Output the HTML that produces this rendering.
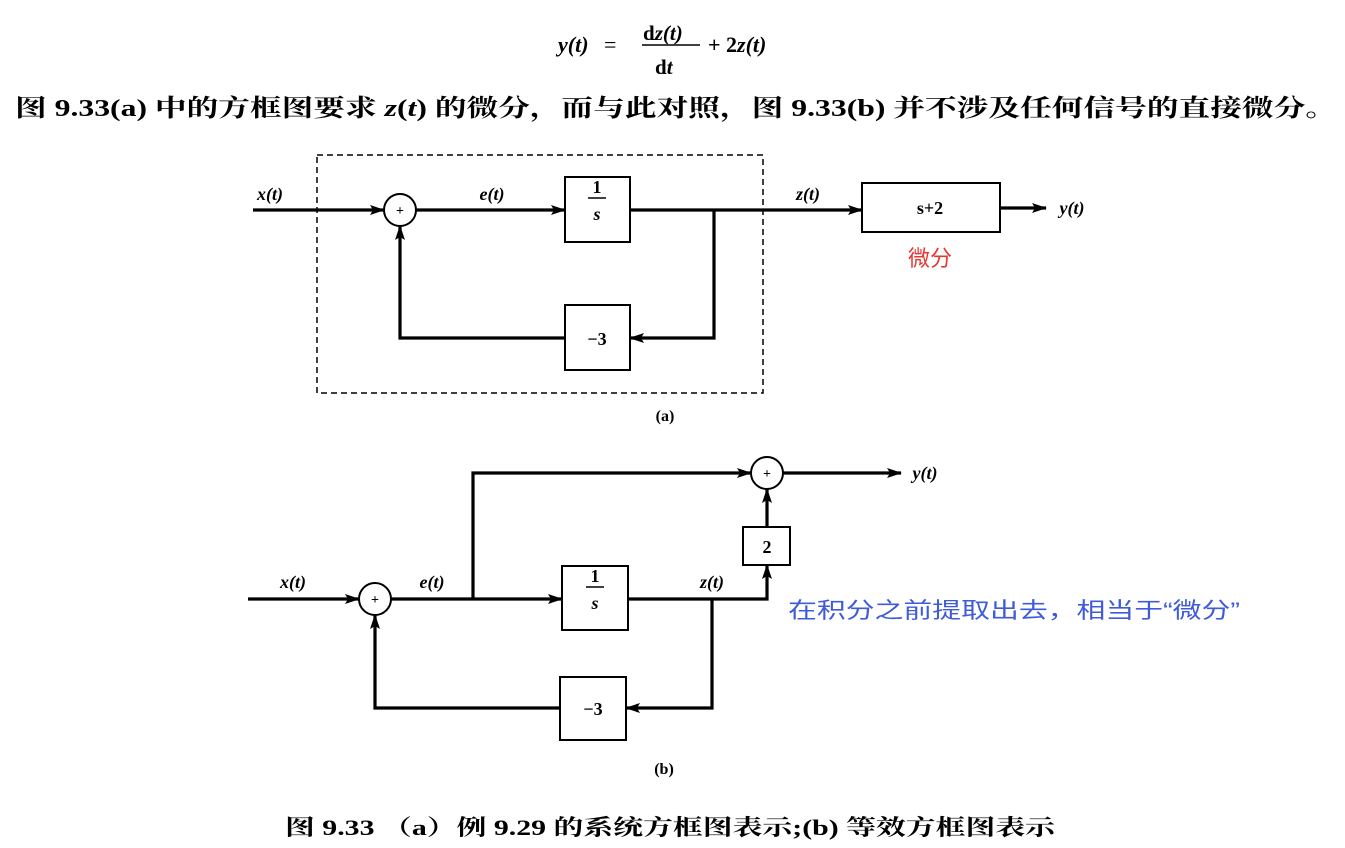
<!DOCTYPE html>
<html><head><meta charset="utf-8"><style>
html,body{margin:0;padding:0;background:#fff;}
svg{display:block;}
.m{font-family:"Liberation Serif",serif;font-style:italic;font-weight:bold;}
.c{font-family:"Liberation Serif","Noto Serif CJK SC","Noto Sans CJK SC",serif;font-weight:bold;}
</style></head><body>
<svg width="1345" height="848" viewBox="0 0 1345 848" xmlns="http://www.w3.org/2000/svg">
<defs>
<marker id="a" markerWidth="15" markerHeight="10" refX="14" refY="5" orient="auto" markerUnits="userSpaceOnUse"><path d="M0,0 L15,5 L0,10 L3,5 z" fill="#000"/></marker>
</defs>
<!-- formula -->
<text x="558" y="52" class="m" font-size="22">y(t)</text>
<text x="604" y="52" font-family="Liberation Serif" font-size="22">=</text>
<text x="643" y="40" class="m" font-size="21"><tspan font-style="normal">d</tspan>z(t)</text>
<line x1="642" y1="45" x2="700" y2="45" stroke="#000" stroke-width="1.5"/>
<text x="655" y="74" class="m" font-size="21"><tspan font-style="normal">d</tspan>t</text>
<text x="708" y="52" class="m" font-size="22"><tspan font-style="normal">+ 2</tspan>z(t)</text>
<text x="15" y="116" class="c" font-size="24" textLength="1322" lengthAdjust="spacingAndGlyphs">图 9.33(a) 中的方框图要求 <tspan font-style="italic">z</tspan>(<tspan font-style="italic">t</tspan>) 的微分，而与此对照，图 9.33(b) 并不涉及任何信号的直接微分。</text>

<g stroke="#000" stroke-width="3.2" fill="none">
<!-- (a) -->
<rect x="317" y="155" width="446" height="238" stroke-width="1.5" stroke-dasharray="6,4"/>
<line x1="253" y1="210" x2="384" y2="210" marker-end="url(#a)"/>
<circle cx="400" cy="210" r="16" stroke-width="2"/>
<line x1="416" y1="210" x2="565" y2="210" marker-end="url(#a)"/>
<rect x="565" y="177" width="65" height="65" stroke-width="2"/>
<line x1="630" y1="210" x2="862" y2="210" marker-end="url(#a)"/>
<polyline points="714,210 714,338 630,338" marker-end="url(#a)"/>
<rect x="565" y="305" width="65" height="65" stroke-width="2"/>
<polyline points="565,338 400,338 400,226" marker-end="url(#a)"/>
<rect x="862" y="183" width="138" height="49" stroke-width="2"/>
<line x1="1000" y1="208" x2="1046" y2="208" marker-end="url(#a)"/>
<!-- (b) -->
<line x1="248" y1="599" x2="359" y2="599" marker-end="url(#a)"/>
<circle cx="375" cy="599" r="16" stroke-width="2"/>
<line x1="391" y1="599" x2="562" y2="599" marker-end="url(#a)"/>
<polyline points="473,599 473,473 751,473" marker-end="url(#a)"/>
<circle cx="767" cy="473" r="16" stroke-width="2"/>
<line x1="783" y1="473" x2="901" y2="473" marker-end="url(#a)"/>
<rect x="562" y="566" width="66" height="64" stroke-width="2"/>
<polyline points="628,599 767,599 767,565" marker-end="url(#a)"/>
<rect x="743" y="527" width="47" height="38" stroke-width="2"/>
<line x1="767" y1="527" x2="767" y2="489" marker-end="url(#a)"/>
<polyline points="712,599 712,708 626,708" marker-end="url(#a)"/>
<rect x="560" y="677" width="66" height="63" stroke-width="2"/>
<polyline points="560,708 375,708 375,615" marker-end="url(#a)"/>
</g>
<g font-family="Liberation Serif" font-weight="bold" font-size="14" text-anchor="middle">
<text x="400" y="215">+</text><text x="767" y="478">+</text><text x="375" y="604">+</text>
</g>
<g class="m" font-size="18" text-anchor="middle">
<text x="270" y="200">x(t)</text>
<text x="492" y="200">e(t)</text>
<text x="808" y="200">z(t)</text>
<text x="1072" y="214">y(t)</text>
<text x="293" y="588">x(t)</text>
<text x="432" y="588">e(t)</text>
<text x="712" y="588">z(t)</text>
<text x="925" y="479">y(t)</text>
<text x="597" y="220" font-style="italic">s</text>
<text x="597" y="193" font-style="normal">1</text>
<line x1="588" y1="198" x2="606" y2="198" stroke="#000" stroke-width="1.5"/>
<text x="595" y="609" font-style="italic">s</text>
<text x="595" y="582" font-style="normal">1</text>
<line x1="586" y1="587" x2="604" y2="587" stroke="#000" stroke-width="1.5"/>
<text x="597" y="345" font-style="normal">−3</text>
<text x="593" y="715" font-style="normal">−3</text>
<text x="930" y="214" font-style="normal">s+2</text>
<text x="767" y="553" font-style="normal">2</text>
<text x="665" y="421" font-style="normal" font-size="16">(a)</text>
<text x="664" y="774" font-style="normal" font-size="16">(b)</text>
</g>
<text x="930" y="266" text-anchor="middle" font-family="'Noto Sans CJK SC',sans-serif" font-size="22" fill="#e53935">微分</text>
<text x="788" y="618" font-family="'Liberation Sans','Noto Sans CJK SC',sans-serif" font-size="22" fill="#3f5bd8" textLength="452" lengthAdjust="spacingAndGlyphs">在积分之前提取出去，相当于“微分”</text>
<text x="285" y="835" class="c" font-size="22" textLength="770" lengthAdjust="spacingAndGlyphs">图 9.33 （a）例 9.29 的系统方框图表示;(b) 等效方框图表示</text>
</svg>
</body></html>
